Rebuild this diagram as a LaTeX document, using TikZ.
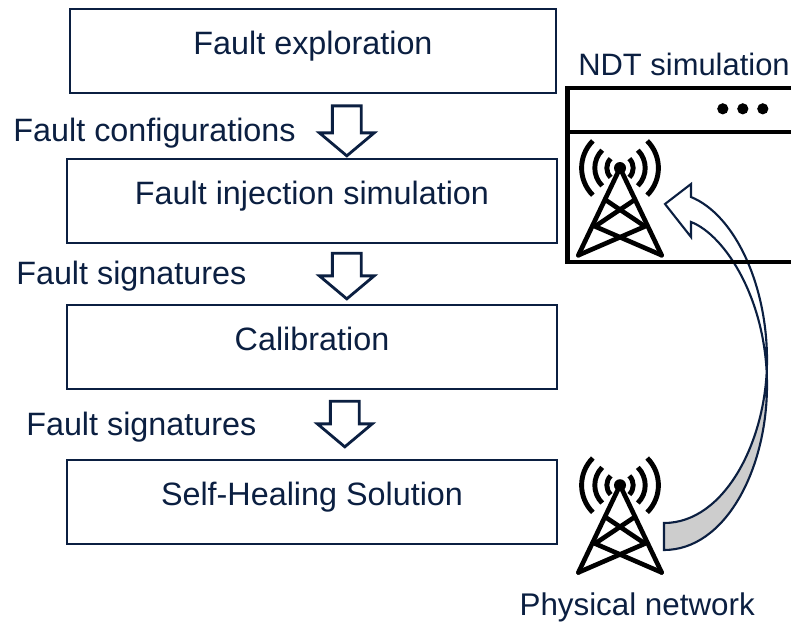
\documentclass[tikz,border=0pt]{standalone}
\usepackage{fontspec}
\setmainfont{Liberation Sans}
\usepackage{tikz}
\usetikzlibrary{shapes.arrows}
\definecolor{navy}{HTML}{0B1F41}
\definecolor{ribbon}{HTML}{CDCDCD}
\tikzstyle{box} = [draw=navy, line width=2pt, minimum width=12.25cm, minimum height=2.1cm, text=navy, text height=0.55cm, text depth=0.4cm, font=\fontsize{23}{27}\selectfont]
\tikzstyle{label} = [text=navy, font=\fontsize{23}{27}\selectfont, inner sep=0pt]
\tikzstyle{downarrow} = [draw=navy, line width=2pt, line join=miter, fill=white, single arrow, shape border rotate=270, single arrow tip angle=100, minimum height=1.14cm, minimum width=1.3cm, single arrow head extend=0.325cm, inner xsep=0.325cm, inner ysep=0pt]
\tikzstyle{mast} = [line width=3.3pt, line cap=round, line join=round]
\tikzstyle{wave} = [line width=3.5pt]
\newcommand{\tower}[1]{%
\fill (#1) circle (0.15cm);
\draw [mast] (#1) ++(-1.04,-2.18) -- ++(1.04,2.18) -- ++(1.04,-2.18);
\draw [mast] (#1) ++(-1.04,-2.18) -- ++(1.665,0.72) -- ++(-1,0.67);
\draw [mast] (#1) ++(1.04,-2.18) -- ++(-1.665,0.72) -- ++(1,0.67);
\foreach \r in {0.33,0.63,0.96} {
\draw [wave] (#1) ++(135:\r) arc (135:225:\r);
\draw [wave] (#1) ++(45:\r) arc (45:-45:\r);
}
}
\begin{document}
\begin{tikzpicture}[node distance=3.75cm]
\useasboundingbox (0,0) rectangle (19.775,-15.525);
\node (explore) [box, minimum width=12.15cm] at (7.825,-1.275) {Fault exploration};
\node (inject) [box, below of=explore, xshift=-0.025cm] {Fault injection simulation};
\node (calib) [box, below of=inject, yshift=0.1cm] {Calibration};
\node (heal) [box, below of=calib, yshift=-0.125cm] {Self-Healing Solution};

\node (arrow1) [downarrow, minimum height=1.25cm] at (8.67,-3.12) {};
\node (arrow2) [downarrow] at (8.67,-6.75) {};
\node (arrow3) [downarrow] at (8.62,-10.45) {};

\node (configs) [label, anchor=west] at (0.33,-3.34) {Fault configurations};
\node (sign1) [label, anchor=west] at (0.4,-6.9) {Fault signatures};
\node (sign2) [label, anchor=west] at (0.65,-10.67) {Fault signatures};
\node (ndt) [label, font=\fontsize{22}{26}\selectfont] at (17.1,-1.6) {NDT simulation};
\node (phys) [label, font=\fontsize{22.3}{26}\selectfont] at (15.93,-15.18) {Physical network};

% curved arrow
\fill [ribbon] (19.175,-9) .. controls (19.175,-11) and (18.125,-13.075) .. (16.6,-13.075) -- (16.6,-13.75) .. controls (18.125,-13.75) and (19.175,-11.75) .. (19.175,-9.625) -- cycle;
\draw [navy, line width=1.5pt, line join=miter] (16.6,-13.075) .. controls (18.125,-13.075) and (19.175,-11) .. (19.175,-9) .. controls (19.175,-7.125) and (18.375,-5.375) .. (17.275,-4.925) -- (17.275,-4.6) -- (16.625,-5.1) -- (17.275,-5.925) -- (17.275,-5.55) .. controls (18.125,-5.875) and (19.175,-7.5) .. (19.175,-9.625) .. controls (19.175,-11.75) and (18.125,-13.75) .. (16.6,-13.75) -- cycle;

% window
\draw [line width=3.3pt, line join=miter] (19.775,-2.2) -- (14.19,-2.2) -- (14.19,-6.55) -- (19.775,-6.55);
\draw [line width=3.3pt] (14.19,-3.3) -- (19.775,-3.3);
\foreach \x in {18.07,18.57,19.07} {
\fill (\x,-2.72) circle (0.14cm);
}
\coordinate (top) at (15.5,-4.2);
\coordinate (bottom) at (15.5,-12.13);
\tower{top}
\tower{bottom}
\end{tikzpicture}
\end{document}
